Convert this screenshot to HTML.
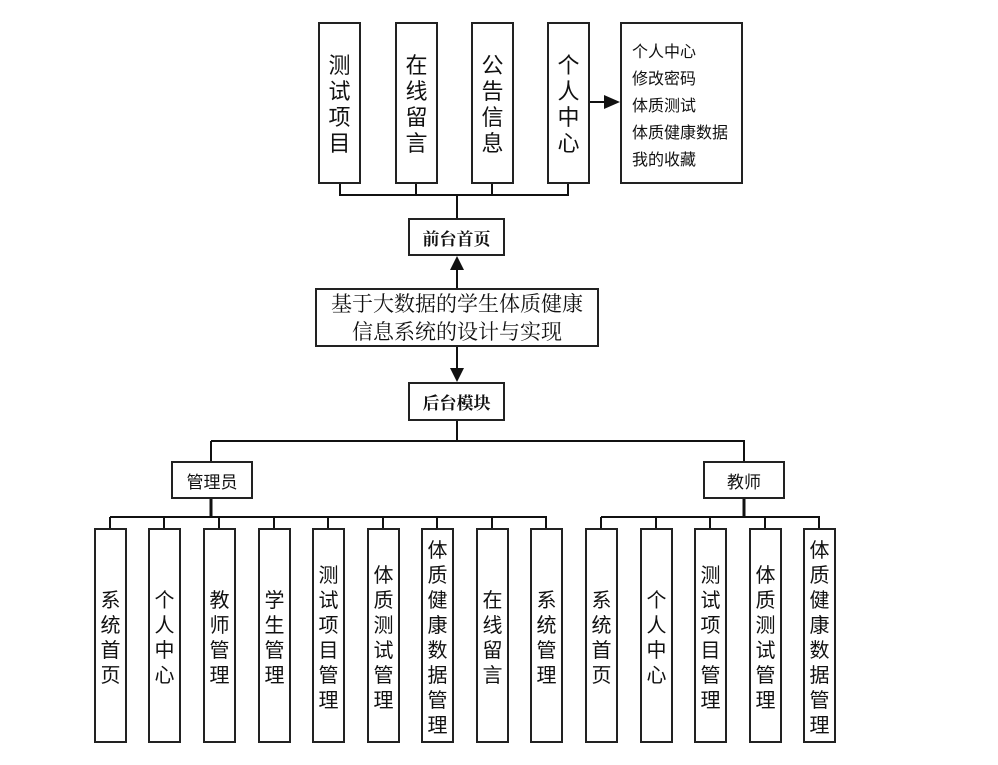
<!DOCTYPE html>
<html><head><meta charset="utf-8"><style>
body{margin:0;width:998px;height:765px;background:#fff;position:relative;overflow:hidden;font-family:"Liberation Serif","Noto Serif CJK SC","Noto Sans CJK SC",serif;color:#111}
.b{position:absolute;box-sizing:border-box;border:2px solid #222;background:#fff;display:flex;align-items:center;justify-content:center;text-align:center}
.v{font-size:20px;line-height:25px;font-family:"Noto Sans CJK SC",sans-serif;font-weight:400}
.t{font-size:22px;line-height:26px}
.h{font-family:"Noto Sans CJK SC",sans-serif;font-size:16px;font-weight:400}
svg{position:absolute;left:0;top:0}
</style></head><body>
<svg width="998" height="765">
<g stroke="#111" stroke-width="2" fill="none">
<path d="M340 183V195M416 183V195M492 183V195M568 183V195M339 195H569M457 195V218"/>
<path d="M589 102H605"/>
<path d="M457 288V270"/>
<path d="M457 346V368"/>
<path d="M457 420V441M211 441H745M211 441V461M744 441V461"/>
<path d="M211 498V517M110 517H547" />
<path d="M110 517V528M164 517V528M219 517V528M274 517V528M328 517V528M383 517V528M437 517V528M492 517V528M546 517V528"/>
<path d="M744 498V517M601 517H820"/>
<path d="M601 517V528M656 517V528M710 517V528M765 517V528M819 517V528"/>
</g>
<path d="M211 498V517" stroke="#111" stroke-width="3"/>
<path d="M744 498V517" stroke="#111" stroke-width="3"/>
<polygon points="620,102 604,95 604,109" fill="#111"/>
<polygon points="457,256 450,270 464,270" fill="#111"/>
<polygon points="457,382 450,368 464,368" fill="#111"/>
</svg>
<div class="b v t" style="left:318px;top:22px;width:43px;height:162px">测<br>试<br>项<br>目</div>
<div class="b v t" style="left:395px;top:22px;width:43px;height:162px">在<br>线<br>留<br>言</div>
<div class="b v t" style="left:471px;top:22px;width:43px;height:162px">公<br>告<br>信<br>息</div>
<div class="b v t" style="left:547px;top:22px;width:43px;height:162px">个<br>人<br>中<br>心</div>
<div class="b h" style="left:620px;top:22px;width:123px;height:162px;display:block;text-align:left;padding:13px 0 0 10px;line-height:27px">个人中心<br>修改密码<br>体质测试<br>体质健康数据<br>我的收藏</div>
<div class="b" style="left:408px;top:218px;width:97px;height:38px;font-weight:bold;font-size:17px">前台首页</div>
<div class="b" style="left:315px;top:288px;width:284px;height:59px;font-size:21px;line-height:28px">基于大数据的学生体质健康<br>信息系统的设计与实现</div>
<div class="b" style="left:408px;top:382px;width:97px;height:39px;font-weight:bold;font-size:17px">后台模块</div>
<div class="b h" style="left:171px;top:461px;width:82px;height:38px;font-size:17px">管理员</div>
<div class="b h" style="left:703px;top:461px;width:82px;height:38px;font-size:17px">教师</div>
<div class="b v" style="left:94px;top:528px;width:33px;height:215px">系<br>统<br>首<br>页</div>
<div class="b v" style="left:148px;top:528px;width:33px;height:215px">个<br>人<br>中<br>心</div>
<div class="b v" style="left:203px;top:528px;width:33px;height:215px">教<br>师<br>管<br>理</div>
<div class="b v" style="left:258px;top:528px;width:33px;height:215px">学<br>生<br>管<br>理</div>
<div class="b v" style="left:312px;top:528px;width:33px;height:215px">测<br>试<br>项<br>目<br>管<br>理</div>
<div class="b v" style="left:367px;top:528px;width:33px;height:215px">体<br>质<br>测<br>试<br>管<br>理</div>
<div class="b v" style="left:421px;top:528px;width:33px;height:215px">体<br>质<br>健<br>康<br>数<br>据<br>管<br>理</div>
<div class="b v" style="left:476px;top:528px;width:33px;height:215px">在<br>线<br>留<br>言</div>
<div class="b v" style="left:530px;top:528px;width:33px;height:215px">系<br>统<br>管<br>理</div>
<div class="b v" style="left:585px;top:528px;width:33px;height:215px">系<br>统<br>首<br>页</div>
<div class="b v" style="left:640px;top:528px;width:33px;height:215px">个<br>人<br>中<br>心</div>
<div class="b v" style="left:694px;top:528px;width:33px;height:215px">测<br>试<br>项<br>目<br>管<br>理</div>
<div class="b v" style="left:749px;top:528px;width:33px;height:215px">体<br>质<br>测<br>试<br>管<br>理</div>
<div class="b v" style="left:803px;top:528px;width:33px;height:215px">体<br>质<br>健<br>康<br>数<br>据<br>管<br>理</div>
</body></html>
